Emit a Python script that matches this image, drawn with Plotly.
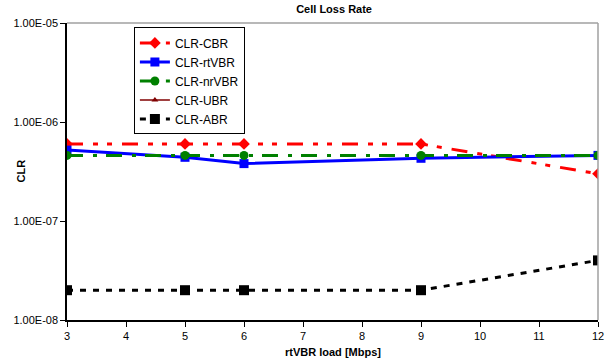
import plotly.graph_objects as go

x_load = [3, 5, 6, 9, 12]
clr_cbr = [6.0e-7, 6.0e-7, 6.0e-7, 6.0e-7, 3.0e-7]
clr_rtvbr = [5.2e-7, 4.4e-7, 3.8e-7, 4.3e-7, 4.6e-7]
clr_nrvbr = [4.6e-7, 4.6e-7, 4.6e-7, 4.6e-7, 4.6e-7]
clr_ubr = [None, None, None, None, None]  # no visible UBR points in the chart
clr_abr = [2.0e-8, 2.0e-8, 2.0e-8, 2.0e-8, 4.0e-8]

y_tickvals = [1e-8, 1e-7, 1e-6, 1e-5]
y_ticktext = ["1.00E-08", "1.00E-07", "1.00E-06", "1.00E-05"]
x_tickvals = [3, 4, 5, 6, 7, 8, 9, 10, 11, 12]

fig = go.Figure()
fig.add_trace(go.Scatter(x=x_load, y=clr_cbr, name="CLR-CBR", mode="lines+markers",
                         line=dict(color="#ff0000", width=3,
                                   dash="16px,10px,5px,9px,5px,10px"),
                         marker=dict(symbol="diamond", size=9, color="#ff0000")))
fig.add_trace(go.Scatter(x=x_load, y=clr_rtvbr, name="CLR-rtVBR", mode="lines+markers",
                         line=dict(color="#0000ff", width=3),
                         marker=dict(symbol="square", size=9, color="#0000ff")))
fig.add_trace(go.Scatter(x=x_load, y=clr_nrvbr, name="CLR-nrVBR", mode="lines+markers",
                         line=dict(color="#008000", width=3, dash="16px,10px,4px,9px"),
                         marker=dict(symbol="circle", size=9, color="#008000")))
fig.add_trace(go.Scatter(x=x_load, y=clr_ubr, name="CLR-UBR", mode="lines+markers",
                         line=dict(color="#800000", width=1.5),
                         marker=dict(symbol="triangle-up", size=6, color="#800000")))
fig.add_trace(go.Scatter(x=x_load, y=clr_abr, name="CLR-ABR", mode="lines+markers",
                         line=dict(color="#000000", width=3, dash="6px,7px"),
                         marker=dict(symbol="square", size=10, color="#000000")))

font_family = "Liberation Sans, Arial, sans-serif"
fig.update_layout(
    width=613, height=363,
    margin=dict(l=67, r=15, t=23, b=43, autoexpand=False),
    paper_bgcolor="white", plot_bgcolor="white",
    font=dict(family=font_family, size=11, color="black"),
    title=dict(text="<b>Cell Loss Rate</b>", x=0.545, xanchor="center", y=0.985, yanchor="top",
               font=dict(size=11)),
    legend=dict(x=0.126, y=0.985, xanchor="left", yanchor="top",
                bgcolor="white", bordercolor="black", borderwidth=1,
                font=dict(size=12), tracegroupgap=0, itemwidth=30),
    showlegend=True,
)
fig.update_xaxes(range=[3, 12], tickvals=x_tickvals, showgrid=False, zeroline=False,
                 showline=True, linecolor="black", linewidth=1.5, automargin=False,
                 ticks="outside", ticklen=5, tickcolor="black")
fig.update_yaxes(type="log", range=[-8, -5], tickvals=y_tickvals, ticktext=y_ticktext,
                 showgrid=False, zeroline=False, automargin=False,
                 showline=True, linecolor="black", linewidth=1.5,
                 ticks="outside", ticklen=5, tickcolor="black")
fig.add_shape(type="line", xref="paper", yref="paper", x0=0, x1=1, y0=1, y1=1,
              line=dict(color="#a0a0a0", width=1.5))
fig.add_shape(type="line", xref="paper", yref="paper", x0=1, x1=1, y0=0, y1=1,
              line=dict(color="#a0a0a0", width=1.5))
fig.add_annotation(text="<b>rtVBR load [Mbps]</b>", xref="paper", yref="paper",
                   x=0.5, y=0, yshift=-24, yanchor="top", showarrow=False, font=dict(size=11))
fig.add_annotation(text="<b>CLR</b>", xref="paper", yref="paper", textangle=-90,
                   x=0, xshift=-47, xanchor="center", y=0.5, yanchor="middle",
                   showarrow=False, font=dict(size=11))

fig.write_html("out.html", config={"displayModeBar": False},
               post_script="document.body.style.margin='0';document.body.style.padding='0';")
